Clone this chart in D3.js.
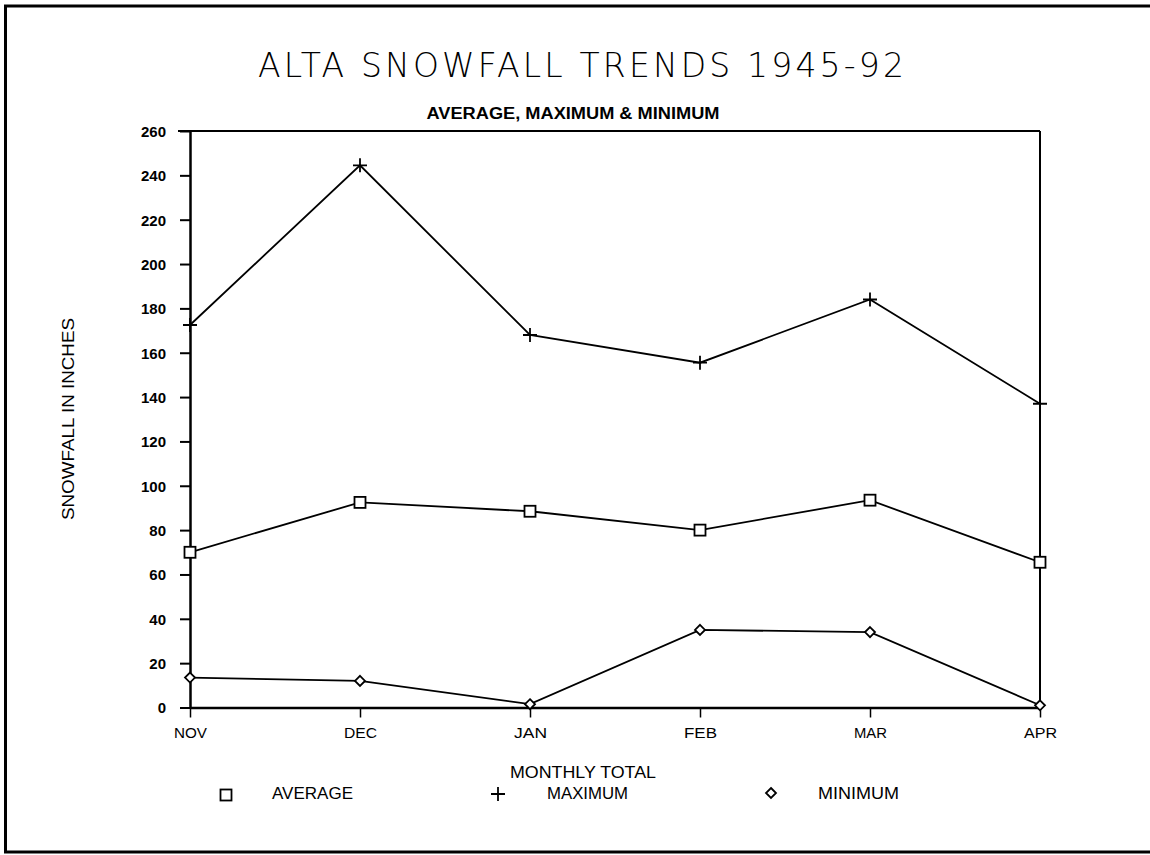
<!DOCTYPE html>
<html>
<head>
<meta charset="utf-8">
<script src="https://cdn.jsdelivr.net/npm/d3@7"></script>
<style>
  html, body { margin: 0; padding: 0; background: #fff; }
  svg { display: block; }
  text { fill: #000; }
</style>
</head>
<body>
<svg id="chart" width="1150" height="855"></svg>
<script>
const months = ["NOV", "DEC", "JAN", "FEB", "MAR", "APR"];
const averageValues = [70, 92.5, 88.5, 80, 93.5, 65.5];
const maximumValues = [172.5, 244.5, 168, 155.5, 184, 137];
const minimumValues = [13.5, 12, 1.5, 35, 34, 1];
const yTicks = [0, 20, 40, 60, 80, 100, 120, 140, 160, 180, 200, 220, 240, 260];
const seriesNames = ["AVERAGE", "MAXIMUM", "MINIMUM"];

(function () {
const svg = d3.select("#chart");
const font = "'Liberation Sans', Arial, sans-serif";

// outer frame
svg.append("path")
  .attr("d", "M1155,6 H5.5 V852 H1155")
  .attr("fill", "none").attr("stroke", "#000").attr("stroke-width", 3);

const pLeft = 190, pRight = 1040, pTop = 131, pBottom = 707.5;
const x = d3.scalePoint().domain(months).range([pLeft, pRight]);
const y = d3.scaleLinear().domain([0, 260]).range([pBottom, pTop]);

// frame of plot
svg.append("line").attr("x1", pLeft - 12).attr("x2", pRight).attr("y1", pTop).attr("y2", pTop)
  .attr("stroke", "#000").attr("stroke-width", 2);
svg.append("line").attr("x1", pRight).attr("x2", pRight).attr("y1", pTop).attr("y2", pBottom)
  .attr("stroke", "#000").attr("stroke-width", 2);

// y axis
const yAxis = svg.append("g").attr("transform", `translate(${pLeft},0)`)
  .call(d3.axisLeft(y).tickValues(yTicks).tickSize(10).tickPadding(14).tickSizeOuter(0));
yAxis.select(".domain").attr("stroke-width", 2.5);
yAxis.selectAll(".tick line").attr("stroke-width", 2);
yAxis.selectAll("text").attr("font-family", font).attr("font-size", 15).attr("font-weight", "bold").attr("fill", "#000")
  .attr("dy", "0.36em");

// x axis
const xAxis = svg.append("g").attr("transform", `translate(0,${pBottom})`)
  .call(d3.axisBottom(x).tickSize(10).tickPadding(10).tickSizeOuter(0));
xAxis.select(".domain").attr("stroke-width", 2.5);
xAxis.selectAll(".tick line").attr("stroke-width", 1.5);
xAxis.selectAll("text").attr("font-family", font).attr("font-size", 15).attr("fill", "#000")
  .attr("textLength", 33).attr("lengthAdjust", "spacingAndGlyphs");

// lines
const line = d3.line().x((d, i) => x(months[i])).y(d => y(d));
[averageValues, maximumValues, minimumValues].forEach(vals => {
  svg.append("path").datum(vals).attr("d", line)
    .attr("fill", "none").attr("stroke", "#000").attr("stroke-width", 1.8);
});

// markers
const sq = 11, pl = 7, dm = 5;
function square(g, cx, cy) {
  g.append("rect").attr("x", cx - sq / 2).attr("y", cy - sq / 2).attr("width", sq).attr("height", sq)
    .attr("fill", "#fff").attr("stroke", "#000").attr("stroke-width", 1.8);
}
function plus(g, cx, cy) {
  g.append("path").attr("d", `M${cx - pl},${cy}H${cx + pl}M${cx},${cy - pl}V${cy + pl}`)
    .attr("stroke", "#000").attr("stroke-width", 1.8).attr("fill", "none");
}
function diamond(g, cx, cy) {
  g.append("path").attr("d", `M${cx},${cy - dm}L${cx + dm},${cy}L${cx},${cy + dm}L${cx - dm},${cy}Z`)
    .attr("fill", "#fff").attr("stroke", "#000").attr("stroke-width", 1.8);
}
const mk = svg.append("g");
averageValues.forEach((v, i) => square(mk, x(months[i]), y(v)));
maximumValues.forEach((v, i) => plus(mk, x(months[i]), y(v)));
minimumValues.forEach((v, i) => diamond(mk, x(months[i]), y(v)));

// titles
svg.append("text").attr("x", 581).attr("y", 77).attr("text-anchor", "middle")
  .attr("font-family", "'DejaVu Sans', sans-serif").attr("font-weight", 200).attr("font-size", 33)
  .attr("textLength", 646).attr("lengthAdjust", "spacing")
  .text("ALTA SNOWFALL TRENDS 1945-92");
svg.append("text").attr("x", 573).attr("y", 119).attr("text-anchor", "middle")
  .attr("font-family", font).attr("font-weight", "bold").attr("font-size", 16)
  .attr("textLength", 293).attr("lengthAdjust", "spacingAndGlyphs")
  .text("AVERAGE, MAXIMUM & MINIMUM");
svg.append("text").attr("transform", "translate(74,419) rotate(-90)").attr("text-anchor", "middle")
  .attr("font-family", font).attr("font-size", 16)
  .attr("textLength", 202).attr("lengthAdjust", "spacingAndGlyphs")
  .text("SNOWFALL IN INCHES");
svg.append("text").attr("x", 583).attr("y", 778).attr("text-anchor", "middle")
  .attr("font-family", font).attr("font-size", 16)
  .attr("textLength", 146).attr("lengthAdjust", "spacingAndGlyphs")
  .text("MONTHLY TOTAL");

// legend
const leg = svg.append("g");
const legX = [226, 498, 771];
const legTX = [272, 547, 818];
square(leg, legX[0], 795);
plus(leg, legX[1], 794);
diamond(leg, legX[2], 793);
seriesNames.forEach((n, i) => {
  leg.append("text").attr("x", legTX[i]).attr("y", 799)
    .attr("font-family", font).attr("font-size", 16)
    .attr("textLength", 81).attr("lengthAdjust", "spacingAndGlyphs").text(n);
});
})();
</script>
</body>
</html>
